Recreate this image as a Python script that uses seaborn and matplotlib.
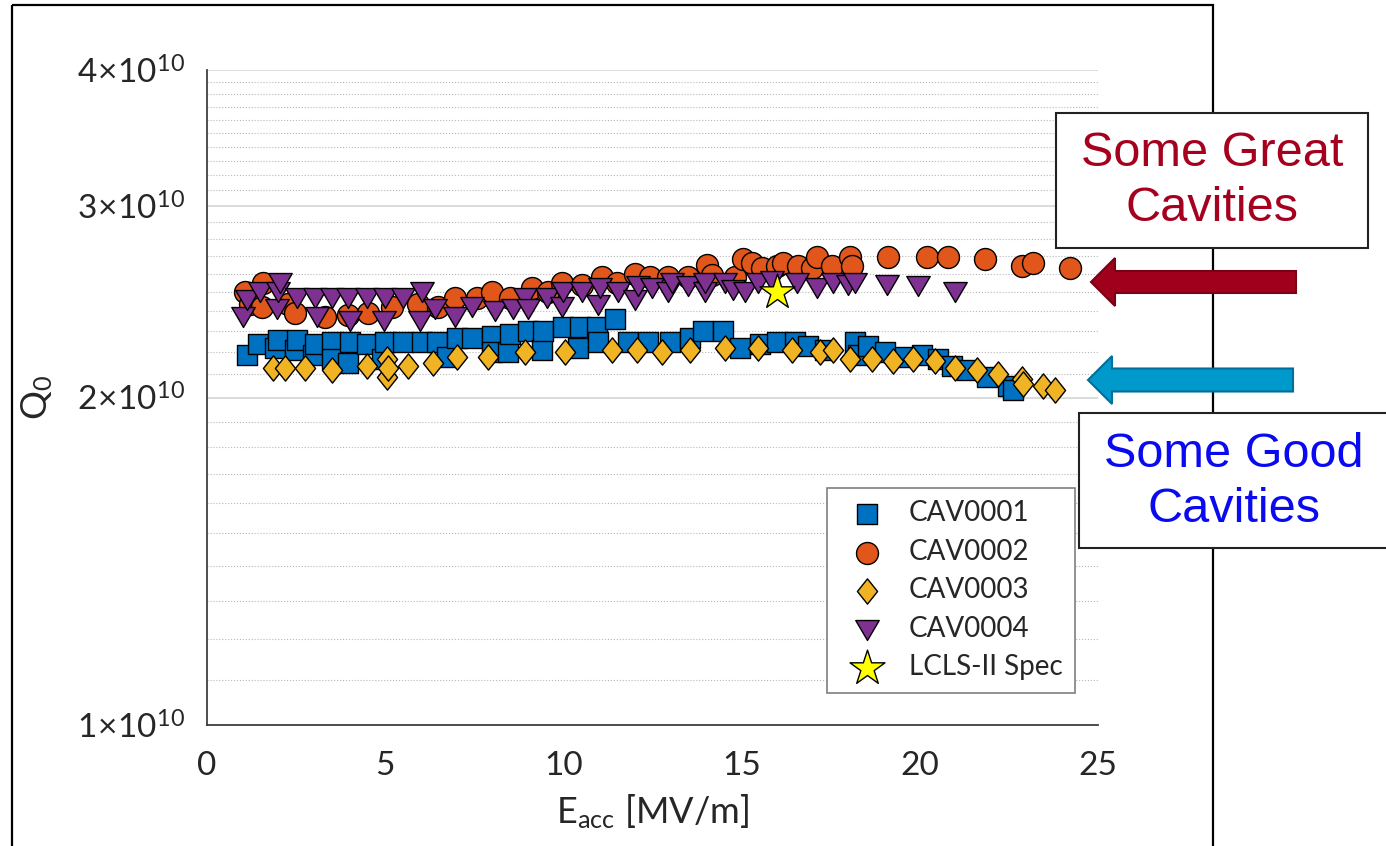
import numpy as np
import pandas as pd
import seaborn as sns
import matplotlib
matplotlib.use("Agg")
from matplotlib import pyplot as plt
from matplotlib import ticker, patches, transforms
from matplotlib.path import Path

# Q0 values are given in units of 1e10
cav1_eacc = [1.12, 1.43, 1.91, 1.99, 2.47, 2.53, 2.97, 3.03, 3.51, 3.51, 3.96, 4.01, 4.49, 4.91, 4.99,
             5.50, 6.03, 6.45, 6.73, 7.01, 7.44, 8.00, 8.00, 8.45, 8.50, 9.01, 9.40, 9.43, 9.99, 10.41,
             10.47, 10.94, 10.97, 11.45, 11.81, 12.37, 12.99, 13.55, 13.92, 14.48, 14.96, 15.52, 15.99,
             16.50, 16.86, 17.34, 18.18, 18.27, 18.55, 19.02, 19.58, 20.06, 20.51, 20.90, 21.32, 21.89,
             22.47, 22.61]
cav1_q0 = [2.19, 2.24, 2.22, 2.26, 2.21, 2.26, 2.19, 2.24, 2.25, 2.17, 2.15, 2.25, 2.24, 2.17, 2.25,
           2.25, 2.25, 2.25, 2.18, 2.27, 2.27, 2.28, 2.20, 2.20, 2.29, 2.30, 2.21, 2.30, 2.32, 2.22,
           2.32, 2.32, 2.25, 2.36, 2.25, 2.25, 2.25, 2.27, 2.30, 2.30, 2.22, 2.24, 2.25,
           2.25, 2.23, 2.21, 2.25, 2.19, 2.23, 2.20, 2.18, 2.19, 2.17, 2.14, 2.12, 2.09,
           2.05, 2.03]

cav2_eacc = [1.07, 1.20, 1.54, 1.57, 2.27, 2.47, 3.31, 3.96, 4.52, 5.19, 5.92, 6.48, 6.96, 7.58, 8.00,
             8.50, 9.12, 9.57, 9.96, 10.52, 11.08, 11.50, 12.01, 12.43, 12.93, 13.50, 14.03, 14.17,
             14.81, 15.04, 15.29, 15.57, 15.99, 16.16, 16.58, 16.98, 17.12, 17.54, 18.04, 18.10,
             19.11, 20.20, 20.79, 21.83, 22.87, 23.18, 24.21]
cav2_q0 = [2.50, 2.44, 2.42, 2.55, 2.44, 2.39, 2.37, 2.38, 2.39, 2.42, 2.44, 2.42, 2.47, 2.47, 2.50,
           2.47, 2.52, 2.50, 2.55, 2.54, 2.58, 2.55, 2.60, 2.58, 2.58, 2.58, 2.65, 2.59,
           2.58, 2.68, 2.66, 2.63, 2.64, 2.66, 2.64, 2.63, 2.69, 2.64, 2.69, 2.64,
           2.69, 2.69, 2.69, 2.68, 2.64, 2.66, 2.63]

cav3_eacc = [1.85, 2.19, 2.75, 3.51, 4.49, 5.05, 5.05, 5.08, 5.64, 6.34, 7.01, 7.88, 8.92, 10.04,
             11.36, 12.07, 12.77, 13.55, 14.53, 15.46, 16.41, 17.20, 17.56, 18.04, 18.66, 19.25,
             19.81, 20.43, 20.99, 21.60, 22.19, 22.87, 22.90, 23.46, 23.79]
cav3_q0 = [2.13, 2.13, 2.13, 2.12, 2.14, 2.17, 2.09, 2.13, 2.14, 2.15, 2.18, 2.18, 2.20, 2.20,
           2.21, 2.21, 2.20, 2.21, 2.22, 2.22, 2.21, 2.20, 2.21, 2.17, 2.17, 2.16,
           2.17, 2.16, 2.13, 2.12, 2.10, 2.08, 2.06, 2.05, 2.03]

cav4_eacc = [1.01, 1.12, 1.49, 1.96, 1.99, 2.05, 2.53, 3.03, 3.09, 3.51, 3.96, 4.01, 4.49, 4.97, 4.99,
             5.50, 5.98, 6.03, 6.40, 6.96, 7.44, 8.08, 8.59, 8.92, 9.01, 9.54, 9.96, 9.99, 10.52, 10.97,
             11.03, 11.53, 12.01, 12.09, 12.49, 12.93, 13.05, 13.50, 13.97, 13.97, 14.53, 14.76, 15.10,
             15.46, 15.85, 16.55, 17.12, 17.56, 17.99, 18.18, 19.08, 19.95, 20.99]
cav4_q0 = [2.37, 2.46, 2.50, 2.41, 2.50, 2.55, 2.47, 2.47, 2.37, 2.47, 2.47, 2.35, 2.47, 2.35, 2.47,
           2.47, 2.35, 2.50, 2.41, 2.37, 2.42, 2.40, 2.41, 2.47, 2.41, 2.47, 2.42, 2.50, 2.50, 2.43,
           2.52, 2.50, 2.46, 2.53, 2.52, 2.50, 2.55, 2.53, 2.50, 2.55, 2.55, 2.51, 2.50,
           2.55, 2.56, 2.55, 2.52, 2.55, 2.54, 2.55, 2.54, 2.53, 2.50]

spec_eacc = [16.0]
spec_q0 = [2.5]

y_major = [1, 2, 3, 4]

sns.set_style("white")
plt.rcParams["font.family"] = ["Lato", "DejaVu Sans"]
plt.rcParams["mathtext.fontset"] = "custom"
plt.rcParams["mathtext.rm"] = "Lato"
plt.rcParams["mathtext.it"] = "Lato:italic"
plt.rcParams["mathtext.bf"] = "Lato:bold"

W, H = 1386, 846
fig = plt.figure(figsize=(W / 100, H / 100), dpi=100)
ax = fig.add_axes([207 / W, 1 - 725 / H, (1098 - 207) / W, (725 - 70) / H])

# pixel coords of the picture (origin top left) -> figure
px = transforms.Affine2D().scale(1 / W, -1 / H).translate(0, 1) + fig.transFigure

# outer chart frame
fig.patches.append(patches.Rectangle((12, 5), 1201, 860, transform=px, fill=False,
                                     edgecolor="black", linewidth=1.6, zorder=0))

diamond = Path([(0, 1), (0.8, 0), (0, -1), (-0.8, 0), (0, 1)], closed=True)
tri_down = Path([(-1, 0.85), (1, 0.85), (0, -0.85), (-1, 0.85)], closed=True)

series = [
    ("CAV0001", cav1_eacc, cav1_q0, "s", 210, "#0070c0"),
    ("CAV0002", cav2_eacc, cav2_q0, "o", 250, "#e0561b"),
    ("CAV0003", cav3_eacc, cav3_q0, diamond, 330, "#f0b323"),
    ("CAV0004", cav4_eacc, cav4_q0, tri_down, 285, "#7f3192"),
    ("LCLS-II Spec", spec_eacc, spec_q0, "*", 700, "#ffff00"),
]

for name, e, q, mk, size, col in series:
    df = pd.DataFrame({"Eacc": e, "Q0": np.array(q) * 1e10})
    sns.scatterplot(data=df, x="Eacc", y="Q0", ax=ax, marker=mk, s=size, color=col,
                    edgecolor="black", linewidth=1.0, label=name, zorder=3)

ax.set_yscale("log")
ax.set_xlim(0, 25)
ax.set_ylim(1e10, 4e10)
ax.xaxis.set_major_locator(ticker.MultipleLocator(5))
ax.yaxis.set_major_locator(ticker.FixedLocator([v * 1e10 for v in y_major]))
ax.yaxis.set_minor_locator(ticker.FixedLocator(
    [v * 1e9 for v in range(11, 40) if v % 10 != 0]))
ax.yaxis.set_major_formatter(ticker.FuncFormatter(
    lambda v, p: r"$%d\!\times\!10^{10}$" % round(v / 1e10)))
ax.yaxis.set_minor_formatter(ticker.NullFormatter())

ax.grid(axis="y", which="major", color="#d9d9d9", linewidth=1.3, linestyle="-")
ax.grid(axis="y", which="minor", color="#b8b8b8", linewidth=0.8, linestyle=":")
ax.set_axisbelow(True)

for s in ["top", "right"]:
    ax.spines[s].set_visible(False)
for s in ["left", "bottom"]:
    ax.spines[s].set_color("#404040")
    ax.spines[s].set_linewidth(1.3)

ax.tick_params(axis="x", which="major", direction="out", length=7, width=1.1,
               color="#404040", labelsize=24, labelcolor="#262626", pad=12)
ax.tick_params(axis="y", which="major", direction="out", length=7, width=1.1,
               color="#404040", labelsize=24, labelcolor="#262626", pad=9)
ax.tick_params(axis="y", which="minor", direction="out", length=4, width=1.0, color="#404040")

ax.set_xlabel(r"$\mathrm{E}_{\mathrm{acc}}$ [MV/m]", fontsize=26, color="#262626", labelpad=8)
ax.set_ylabel(r"$\mathrm{Q}_{0}$", fontsize=26, color="#262626", labelpad=16)

leg = ax.legend(loc="lower left", bbox_to_anchor=(0.696, 0.049), fontsize=20,
                frameon=True, fancybox=False, framealpha=1, edgecolor="#7f7f7f",
                borderpad=0.45, labelspacing=0.45, handletextpad=0.5, borderaxespad=0)
leg.get_frame().set_linewidth(1.2)

# annotation boxes
fig.patches.append(patches.Rectangle((1056, 113), 312, 135, transform=px, facecolor="white",
                                     edgecolor="#222222", linewidth=1.5, zorder=2))
fig.patches.append(patches.Rectangle((1079, 413), 330, 135, transform=px, facecolor="white",
                                     edgecolor="#222222", linewidth=1.5, zorder=2))
fig.text(1212, 181, "Some Great\nCavities", transform=px, ha="center", va="center",
         fontsize=35, color="#a6001f", family="Liberation Sans", linespacing=1.3, zorder=3)
fig.text(1234, 482, "Some Good\nCavities", transform=px, ha="center", va="center",
         fontsize=35, color="#0a0af0", family="Liberation Sans", linespacing=1.3, zorder=3)

# arrows pointing at the two groups
fig.patches.append(patches.FancyArrow(1296, 282, -205, 0, width=22, head_width=48, head_length=24,
                                      length_includes_head=True, transform=px,
                                      facecolor="#a0001c", edgecolor="#7a0015", linewidth=1.5, zorder=3))
fig.patches.append(patches.FancyArrow(1293, 380, -205, 0, width=23, head_width=48, head_length=24,
                                      length_includes_head=True, transform=px,
                                      facecolor="#0099cc", edgecolor="#00709a", linewidth=1.5, zorder=3))

fig.savefig("out.png", dpi=100)
